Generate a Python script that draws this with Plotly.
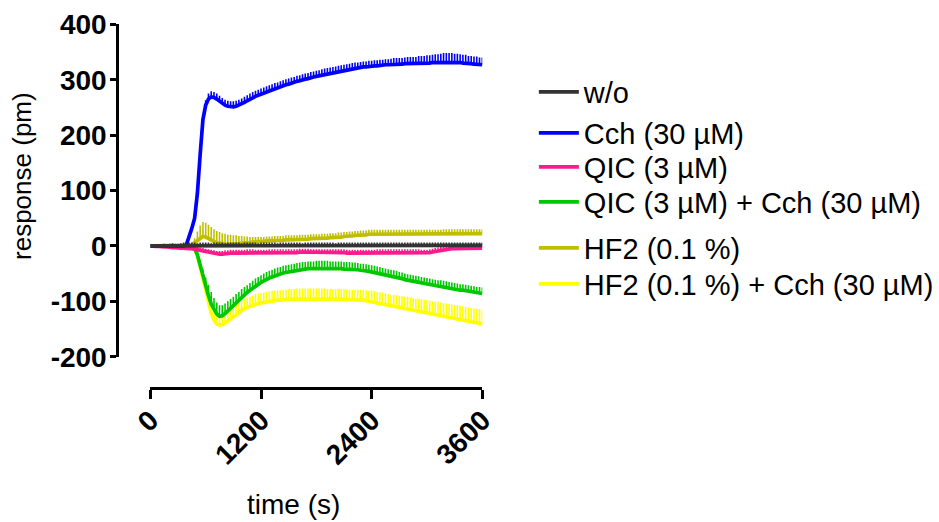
import plotly.graph_objects as go

# ---- data (time in s, response in pm; mean and upper SEM) ----
time_s = list(range(0, 3601, 30))

wo = [0,0,0,0,0,1,0,0,1,0, 0,1,1,0,1,1,1,0,1,1, 1,1,0,1,1,1,1,0,1,1,
      1,1,1,0,1,1,1,1,1,0, 1,1,1,1,1,1,0,1,1,1, 1,1,1,1,1,0,1,1,1,1,
      1,1,1,1,1,1,1,0,1,1, 1,1,1,1,1,1,1,1,1,1, 1,1,1,1,1,1,1,1,1,1,
      1,1,1,1,1,1,1,1,1,1, 1,1,1,1,1,1,1,1,1,1, 1,1,1,1,1,1,1,1,1,1, 1]
wo_sem = [0,1,2,2,3,3,3,4,4,4, 4,4,5,5,5,5,5,5,5,5, 5,5,5,5,5,5,5,5,5,5,
          5,5,5,5,5,5,5,5,5,5, 5,5,5,5,5,5,5,5,5,5, 5,5,5,5,5,5,5,5,5,5,
          5,5,5,5,5,5,5,5,5,5, 5,5,5,5,5,5,5,5,5,5, 5,5,5,5,5,5,5,5,5,5,
          5,5,5,5,5,5,5,5,5,5, 5,5,5,5,5,5,5,5,5,5, 5,5,5,5,5,5,5,5,5,5, 5]

cch = [0,0,0,0,0,0,0,0,0,0,
       0,0,0,2,15,32,50,95,165,228,
       254,265,269,268,265,261,257,254,252,251,
       251,252,254,256,259,262,265,268,270,272,
       274,276,278,280,282,284,285,287,289,291,
       292,294,295,297,298,300,301,302,304,305,
       306,307,309,310,311,312,313,314,315,316,
       317,318,319,320,321,321,322,323,323,324,
       324,325,325,326,326,327,327,327,328,328,
       328,328,329,329,329,329,329,330,330,330,
       330,330,331,331,331,332,332,332,332,332,
       331,331,331,330,330,329,329,328,328,327,
       327]
cch_sem = [0,0,0,0,0,0,0,0,0,0,
           0,0,0,2,3,4,5,6,7,8,
           9,10,10,10,10,10,10,10,10,10,
           10,10,10,10,10,10,10,10,10,10,
           10,10,10,10,10,10,10,10,10,10,
           10,10,10,10,10,10,10,10,10,10,
           10,10,10,10,10,10,10,10,10,10,
           10,10,10,10,10,10,10,10,10,10,
           10,10,10,10,10,10,10,11,11,11,
           11,11,11,12,12,12,12,13,13,13,
           14,14,14,15,15,15,16,16,16,16,
           16,16,15,15,15,14,14,14,14,13,
           13]

qic = [0,-1,-1,-1,-2,-2,-2,-3,-3,-3,
       -4,-4,-4,-5,-5,-5,-6,-7,-8,-9,
       -10,-12,-13,-14,-15,-15,-15,-14,-14,-13,
       -13,-13,-13,-13,-13,-12,-12,-12,-13,-13,
       -13,-13,-13,-12,-12,-12,-12,-12,-12,-12,
       -12,-12,-12,-12,-11,-11,-11,-11,-12,-12,
       -12,-12,-12,-12,-12,-12,-12,-12,-12,-12,
       -12,-13,-13,-13,-13,-13,-13,-13,-13,-13,
       -13,-13,-12,-12,-12,-12,-12,-12,-12,-12,
       -12,-12,-12,-12,-12,-12,-12,-12,-13,-13,
       -13,-12,-11,-10,-9,-8,-7,-6,-6,-5,
       -5,-5,-5,-5,-4,-4,-4,-4,-4,-4,
       -4]
qic_sem = [0,1,1,2,2,2,3,3,3,3, 3,4,4,4,4,4,4,5,5,5,
           5,6,6,6,6,6,6,6,6,6, 6,6,6,6,6,6,6,6,6,6,
           6,6,6,6,6,6,6,6,6,6, 6,6,6,6,6,6,6,6,6,6,
           6,6,6,6,6,6,6,6,6,6, 6,6,6,6,6,6,6,6,6,6,
           6,6,6,6,6,6,6,6,6,6, 6,6,6,6,6,6,6,6,6,6,
           6,6,6,6,6,6,6,6,6,6, 6,6,6,6,6,6,6,6,6,6, 6]

qic_cch = [0,0,0,0,0,0,0,0,0,-1,
           -1,-1,-1,-1,-1,-2,-5,-16,-35,-55,
           -74,-90,-105,-116,-123,-127,-126,-122,-117,-112,
           -107,-102,-97,-92,-88,-84,-80,-76,-72,-69,
           -66,-63,-60,-58,-56,-54,-52,-51,-49,-48,
           -47,-46,-45,-44,-43,-42,-42,-41,-41,-41,
           -40,-40,-40,-40,-40,-41,-41,-41,-41,-41,
           -42,-42,-42,-43,-43,-43,-44,-44,-45,-46,
           -47,-48,-49,-50,-52,-53,-54,-55,-56,-57,
           -58,-59,-61,-62,-63,-64,-65,-66,-67,-68,
           -69,-70,-71,-72,-73,-73,-74,-75,-76,-77,
           -78,-79,-80,-80,-81,-82,-83,-84,-85,-85,
           -86]
qic_cch_sem = [0,0,0,0,0,0,0,0,0,0,
               0,0,0,0,0,1,2,5,9,13,
               17,20,22,22,21,20,19,18,17,16,
               15,15,14,14,14,13,13,13,13,13,
               13,13,13,13,13,13,13,13,13,13,
               13,13,13,13,13,13,13,13,13,13,
               13,13,13,13,13,13,13,13,13,13,
               13,13,13,13,13,12,12,12,12,12,
               12,12,12,12,12,12,12,12,12,12,
               11,11,11,11,11,11,11,11,11,11,
               11,11,11,11,11,11,11,11,11,11,
               11,11,11,11,11,11,11,11,11,11,
               11]

hf2 = [0,0,0,0,0,0,0,0,0,0,
       0,0,0,0,1,2,6,11,15,17,
       16,13,10,8,6,5,4,4,3,3,
       3,4,4,5,5,6,6,7,7,8,
       8,8,9,9,9,10,10,10,10,11,
       11,11,11,11,12,12,12,12,13,13,
       13,13,14,14,14,15,15,15,16,16,
       17,17,18,18,19,19,20,20,20,21,
       21,21,21,21,21,21,21,21,21,21,
       21,21,21,21,21,21,21,21,21,21,
       21,21,21,21,21,21,22,22,22,22,
       22,22,22,22,22,22,22,22,22,22,
       22]
hf2_sem = [0,0,0,0,0,0,0,0,0,0,
           0,0,0,0,1,3,8,15,22,26,
           26,25,24,22,21,20,19,18,17,17,
           16,15,14,13,12,11,10,9,9,8,
           8,8,8,8,8,8,8,8,8,8,
           8,8,8,8,8,8,8,8,8,8,
           8,8,8,8,8,8,8,8,8,8,
           8,8,8,8,8,8,8,8,8,8,
           8,8,8,8,8,8,8,8,8,8,
           8,8,8,8,8,8,8,8,8,8,
           8,8,8,8,8,8,8,8,8,8,
           8,8,8,8,8,8,8,8,8,8,
           8]

hf2_cch = [0,0,0,0,0,0,0,0,0,-1,
           -1,-1,-1,-1,-1,-2,-5,-17,-37,-59,
           -82,-103,-121,-134,-141,-143,-142,-139,-135,-131,
           -127,-123,-119,-116,-113,-111,-109,-107,-105,-104,
           -103,-102,-101,-100,-99,-99,-98,-98,-97,-97,
           -96,-96,-96,-95,-95,-95,-95,-95,-95,-95,
           -95,-95,-95,-95,-96,-96,-96,-96,-96,-96,
           -96,-97,-97,-97,-97,-98,-98,-98,-99,-100,
           -101,-102,-103,-104,-105,-107,-108,-109,-110,-111,
           -112,-113,-114,-115,-116,-117,-118,-119,-120,-121,
           -122,-123,-124,-125,-126,-127,-128,-129,-130,-131,
           -132,-133,-134,-135,-136,-137,-138,-139,-140,-140,
           -141]
hf2_cch_sem = [0,0,0,0,0,0,0,0,0,0,
               0,0,0,0,0,1,2,5,9,12,
               14,15,15,15,15,15,15,16,16,16,
               16,17,17,17,17,17,17,17,18,18,
               18,18,18,18,18,18,18,18,18,18,
               18,18,18,18,18,18,18,18,18,18,
               18,18,18,18,18,18,18,18,18,18,
               18,18,18,18,18,19,19,19,19,19,
               20,20,20,20,21,21,21,21,22,22,
               22,22,22,23,23,23,23,23,24,24,
               24,24,24,24,25,25,25,25,25,25,
               25,26,26,26,26,26,26,26,26,26,
               26]

names = ["w/o", "Cch (30 µM)", "QIC (3 µM)", "QIC (3 µM) + Cch (30 µM)",
         "HF2 (0.1 %)", "HF2 (0.1 %) + Cch (30 µM)"]
series = [wo, cch, qic, qic_cch, hf2, hf2_cch]
sems = [wo_sem, cch_sem, qic_sem, qic_cch_sem, hf2_sem, hf2_cch_sem]
colors = ["#333333", "#0000FF", "#FF1A8C", "#00C800", "#BFBF00", "#FFFF00"]
legend_y_px = [92, 133, 167, 202, 248, 284]

x_ticks = [0, 1200, 2400, 3600]
y_ticks = [-200, -100, 0, 100, 200, 300, 400]
y_ticktext = ["-200", "-100", "0", "100", "200", "300", "400"]

W, H = 939, 522
FONT = "Liberation Sans, Arial, sans-serif"

fig = go.Figure()
# draw in reverse so w/o ends on top
for i in reversed(range(len(series))):
    lname = "legend" if i == 0 else f"legend{i+1}"
    fig.add_trace(go.Scatter(
        x=time_s, y=series[i], mode="lines", name=names[i],
        line=dict(color=colors[i], width=3.7),
        error_y=dict(type="data", array=sems[i], arrayminus=[0]*len(sems[i]),
                     symmetric=False, color=colors[i], thickness=1.6, width=0),
        legend=lname, showlegend=True))

# plot area in pixels
x0_px, x1_px = 150.7, 483.3
ytop_px, ybot_px = 24.3, 356.7
yaxis_x_px = 117.3
xaxis_y_px = 388.0

layout = dict(
    width=W, height=H, margin=dict(l=0, r=0, t=0, b=0),
    paper_bgcolor="white", plot_bgcolor="white",
    font=dict(family=FONT, color="black"),
    xaxis=dict(range=[0, 3600], domain=[x0_px / W, x1_px / W], anchor="free",
               position=1 - xaxis_y_px / H, showline=True, linewidth=2.5,
               linecolor="black", ticks="outside", ticklen=9, tickwidth=2.5,
               tickcolor="black", tickvals=x_ticks, tickangle=-45,
               ticklabelstandoff=-6,
               tickfont=dict(family=FONT, size=28, color="black", weight="bold"),
               showgrid=False, zeroline=False, automargin=False),
    yaxis=dict(range=[-200, 400], domain=[1 - ybot_px / H, 1 - ytop_px / H],
               anchor="free", position=yaxis_x_px / W, showline=True,
               linewidth=2.5, linecolor="black", ticks="outside", ticklen=6,
               tickwidth=2.5, tickcolor="black",
               tickvals=y_ticks, ticktext=y_ticktext, ticklabelstandoff=-2,
               tickfont=dict(family=FONT, size=28, color="black", weight="bold"),
               showgrid=False, zeroline=False, automargin=False),
    annotations=[
        dict(text="response (pm)", x=22 / W, y=1 - 176 / H, xref="paper",
             yref="paper", xanchor="center", yanchor="middle",
             showarrow=False, textangle=-90,
             font=dict(family=FONT, size=26, color="black")),
        dict(text="time (s)", x=294.5 / W, y=1 - 504 / H, xref="paper",
             yref="paper", xanchor="center", yanchor="middle", showarrow=False,
             font=dict(family=FONT, size=28, color="black")),
    ],
)
for i, ypx in enumerate(legend_y_px):
    lname = "legend" if i == 0 else f"legend{i+1}"
    layout[lname] = dict(x=535 / W, y=1 - ypx / H, xanchor="left",
                         yanchor="middle", bgcolor="rgba(0,0,0,0)",
                         font=dict(family=FONT, size=29, color="black"),
                         itemwidth=40)
fig.update_layout(**layout)

fig.write_html("out.html")
